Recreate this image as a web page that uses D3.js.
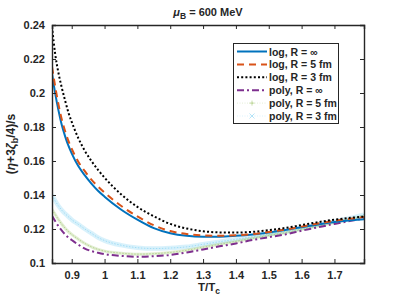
<!DOCTYPE html>
<html>
<head>
<meta charset="utf-8">
<script src="https://cdn.jsdelivr.net/npm/d3@7"></script>
<style>
  body { margin: 0; background: #fff; }
  text { font-family: "Liberation Sans", Arial, sans-serif; fill: #262626; }
</style>
</head>
<body>
<div id="chart"></div>
<script>
// temperature grid T/Tc
let temps = [0.84, 0.85, 0.86, 0.87, 0.88, 0.89, 0.90, 0.92, 0.94, 0.96, 0.98, 1.00,
             1.05, 1.10, 1.15, 1.20, 1.25, 1.30, 1.35, 1.40, 1.45, 1.50, 1.55, 1.60,
             1.65, 1.70, 1.75, 1.79];

let logInf = [0.2115, 0.1995, 0.1895, 0.1810, 0.1745, 0.1690, 0.1645, 0.1570, 0.1515, 0.1467, 0.1425, 0.1390,
              0.1315, 0.1255, 0.1205, 0.1175, 0.1160, 0.1155, 0.1155, 0.1160, 0.1168, 0.1180, 0.1194, 0.1210,
              0.1227, 0.1241, 0.1251, 0.1258];
let log5 = [0.2155, 0.2035, 0.1930, 0.1843, 0.1775, 0.1718, 0.1672, 0.1596, 0.1540, 0.1490, 0.1450, 0.1414,
            0.1337, 0.1274, 0.1222, 0.1188, 0.1170, 0.1162, 0.1160, 0.1163, 0.1170, 0.1182, 0.1197, 0.1214,
            0.1232, 0.1248, 0.1261, 0.1270];
let log3 = [0.2390, 0.2225, 0.2115, 0.2030, 0.1955, 0.1885, 0.1830, 0.1735, 0.1660, 0.1600, 0.1548, 0.1502,
            0.1405, 0.1330, 0.1275, 0.1230, 0.1203, 0.1187, 0.1180, 0.1179, 0.1183, 0.1193, 0.1206, 0.1223,
            0.1240, 0.1255, 0.1266, 0.1273];
let polyInf = [0.1278, 0.1245, 0.1215, 0.1190, 0.1168, 0.1150, 0.1135, 0.1108, 0.1085, 0.1070, 0.1060, 0.1052,
               0.1042, 0.1037, 0.1040, 0.1047, 0.1062, 0.1080, 0.1098, 0.1115, 0.1135, 0.1152, 0.1168, 0.1190,
               0.1210, 0.1230, 0.1248, 0.1262];
let poly5 = [0.1315, 0.1285, 0.1255, 0.1228, 0.1205, 0.1185, 0.1168, 0.1140, 0.1115, 0.1095, 0.1080, 0.1070,
             0.1058, 0.1052, 0.1055, 0.1062, 0.1075, 0.1093, 0.1110, 0.1127, 0.1145, 0.1162, 0.1178, 0.1198,
             0.1218, 0.1238, 0.1257, 0.1275];
let poly3 = [0.1400, 0.1365, 0.1335, 0.1310, 0.1290, 0.1272, 0.1255, 0.1228, 0.1200, 0.1175, 0.1150, 0.1132,
             0.1105, 0.1090, 0.1085, 0.1088, 0.1095, 0.1110, 0.1125, 0.1140, 0.1155, 0.1170, 0.1186, 0.1205,
             0.1225, 0.1245, 0.1265, 0.1285];

let xTicks = [0.9, 1.0, 1.1, 1.2, 1.3, 1.4, 1.5, 1.6, 1.7];
let yTicks = [0.10, 0.12, 0.14, 0.16, 0.18, 0.20, 0.22, 0.24];

let seriesInfo = [
  {name: "log, R = \u221e",  values: logInf,  color: "#0072BD", width: 2,   dash: null,      kind: "line"},
  {name: "log, R = 5 fm",    values: log5,    color: "#D95319", width: 2,   dash: "7,5",     kind: "line"},
  {name: "log, R = 3 fm",    values: log3,    color: "#000000", width: 2,   dash: "2,2.2",   kind: "line"},
  {name: "poly, R = \u221e", values: polyInf, color: "#7E2F8E", width: 2,   dash: "7,3,2,3", kind: "line"},
  {name: "poly, R = 5 fm",   values: poly5,   color: "#77AC30", width: 3,   dash: null,      kind: "plus"},
  {name: "poly, R = 3 fm",   values: poly3,   color: "#4DBEEE", width: 4.5, dash: null,      kind: "cross"}
];

const W = 403, H = 303;
const margin = {left: 52, right: 39, top: 25, bottom: 40};

const svg = d3.select("#chart").append("svg").attr("width", W).attr("height", H);

const x = d3.scaleLinear().domain([0.84, 1.79]).range([margin.left, W - margin.right]);
const y = d3.scaleLinear().domain([0.10, 0.24]).range([H - margin.bottom, margin.top]);

svg.append("clipPath").attr("id", "clip").append("rect")
  .attr("x", margin.left).attr("y", margin.top)
  .attr("width", W - margin.left - margin.right).attr("height", H - margin.top - margin.bottom);

const line = d3.line().x((d, i) => x(temps[i])).y(d => y(d)).curve(d3.curveMonotoneX);

const plot = svg.append("g").attr("clip-path", "url(#clip)");

// draw poly bands first (under), then the log lines
let order = [5, 4, 3, 0, 1, 2];
order.forEach(k => {
  let s = seriesInfo[k];
  if (s.kind === "line") {
    plot.append("path").datum(s.values)
      .attr("d", line).attr("fill", "none")
      .attr("stroke", s.color).attr("stroke-width", s.width)
      .attr("stroke-dasharray", s.dash);
  } else {
    // dense marker band drawn as a soft thick stroke
    plot.append("path").datum(s.values)
      .attr("d", line).attr("fill", "none")
      .attr("stroke", s.color).attr("stroke-opacity", 0.22)
      .attr("stroke-width", s.width);
    plot.append("path").datum(s.values)
      .attr("d", line).attr("fill", "none")
      .attr("stroke", s.color).attr("stroke-opacity", 0.4)
      .attr("stroke-width", 1).attr("stroke-dasharray", "1.5,1.5");
  }
});

// axes
const axisColor = "#262626";
const gBottom = svg.append("g").attr("transform", `translate(0,${H - margin.bottom})`)
  .call(d3.axisBottom(x).tickValues(xTicks).tickSize(-4).tickPadding(8).tickFormat(d3.format("")));
const gTop = svg.append("g").attr("transform", `translate(0,${margin.top})`)
  .call(d3.axisTop(x).tickValues(xTicks).tickSize(-4).tickFormat(""));
const gLeft = svg.append("g").attr("transform", `translate(${margin.left},0)`)
  .call(d3.axisLeft(y).tickValues(yTicks).tickSize(-4).tickPadding(7).tickFormat(d3.format("")));
const gRight = svg.append("g").attr("transform", `translate(${W - margin.right},0)`)
  .call(d3.axisRight(y).tickValues(yTicks).tickSize(-4).tickFormat(""));

[gBottom, gTop, gLeft, gRight].forEach(g => {
  g.select(".domain").attr("stroke", axisColor).attr("stroke-width", 1.4);
  g.selectAll(".tick line").attr("stroke", axisColor).attr("stroke-width", 1);
  g.selectAll(".tick text").attr("fill", axisColor)
    .style("font-size", "11px").style("font-weight", "bold")
    .style("font-family", "'Liberation Sans', Arial, sans-serif");
});

// title
const title = svg.append("text").attr("x", 208).attr("y", 16)
  .attr("text-anchor", "middle").style("font-size", "11px").style("font-weight", "bold");
title.append("tspan").text("\u03bc").style("font-style", "italic");
title.append("tspan").text("B").attr("dy", 3).style("font-size", "8.5px");
title.append("tspan").text(" = 600 MeV").attr("dy", -3);

// x label
const xl = svg.append("text").attr("x", 209).attr("y", 291)
  .attr("text-anchor", "middle").style("font-size", "11.5px").style("font-weight", "bold");
xl.append("tspan").text("T/T");
xl.append("tspan").text("c").attr("dy", 3).style("font-size", "8.5px");

// y label
const yl = svg.append("text").attr("transform", "translate(15,144) rotate(-90)")
  .attr("text-anchor", "middle").style("font-size", "12px").style("font-weight", "bold");
yl.append("tspan").text("(");
yl.append("tspan").text("\u03b7").style("font-style", "italic");
yl.append("tspan").text("+3");
yl.append("tspan").text("\u03b6").style("font-style", "italic");
yl.append("tspan").text("b").attr("dy", 3).style("font-size", "9px");
yl.append("tspan").text("/4)/s").attr("dy", -3);

// legend
const lg = svg.append("g");
lg.append("rect").attr("x", 233.5).attr("y", 43.5).attr("width", 105).attr("height", 80)
  .attr("fill", "#fff").attr("stroke", "#262626").attr("stroke-width", 1);
seriesInfo.forEach((s, i) => {
  let cy = 51.5 + i * 12.9;
  if (s.kind === "line") {
    lg.append("line").attr("x1", 237).attr("x2", 267).attr("y1", cy).attr("y2", cy)
      .attr("stroke", s.color).attr("stroke-width", s.width).attr("stroke-dasharray", s.dash);
  } else {
    lg.append("line").attr("x1", 237).attr("x2", 267).attr("y1", cy).attr("y2", cy)
      .attr("stroke", s.color).attr("stroke-opacity", 0.25).attr("stroke-width", 0.8)
      .attr("stroke-dasharray", "1,1.5");
    let m = 2.5;
    if (s.kind === "plus") {
      lg.append("path").attr("d", `M${252 - m},${cy}H${252 + m}M252,${cy - m}V${cy + m}`)
        .attr("stroke", s.color).attr("stroke-opacity", 0.5).attr("stroke-width", 0.8);
    } else {
      lg.append("path").attr("d", `M${252 - m},${cy - m}L${252 + m},${cy + m}M${252 - m},${cy + m}L${252 + m},${cy - m}`)
        .attr("stroke", s.color).attr("stroke-opacity", 0.5).attr("stroke-width", 0.8);
    }
  }
  lg.append("text").attr("x", 269).attr("y", cy + 4)
    .style("font-size", "10.5px").style("font-weight", "bold").text(s.name);
});
</script>
</body>
</html>
